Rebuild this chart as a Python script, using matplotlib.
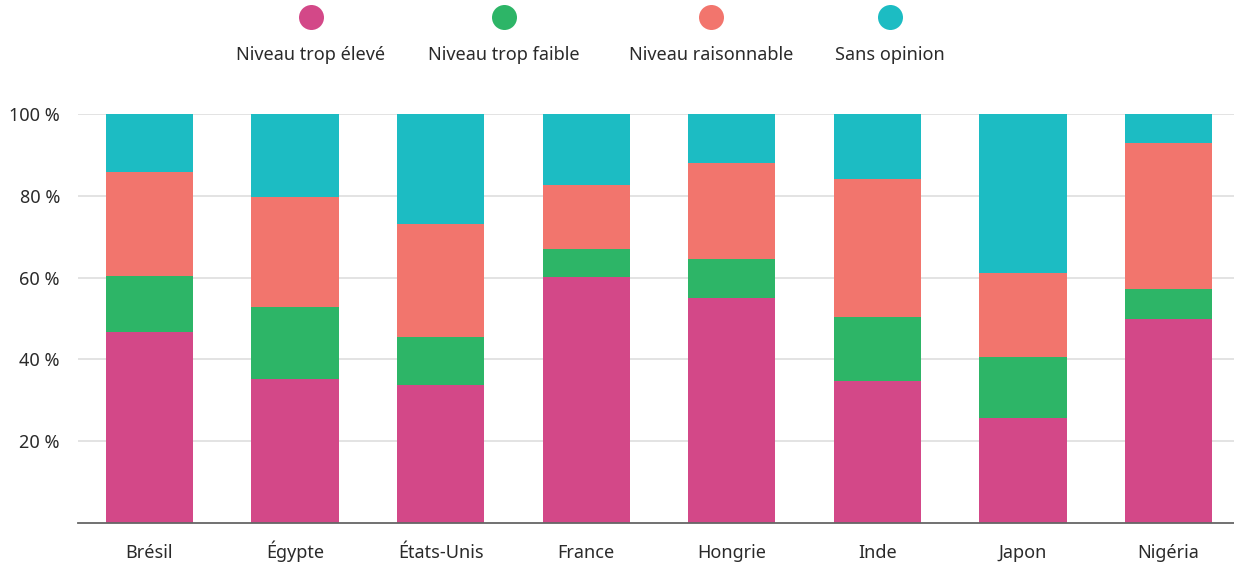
import matplotlib
matplotlib.use("Agg")
import matplotlib.pyplot as plt
from matplotlib.lines import Line2D
import numpy as np

plt.rcParams['font.family'] = ['Noto Sans', 'DejaVu Sans']

categories = ["Brésil", "Égypte", "États-Unis", "France", "Hongrie", "Inde", "Japon", "Nigéria"]
series_names = ["Niveau trop élevé", "Niveau trop faible", "Niveau raisonnable", "Sans opinion"]
trop_eleve = [46.8, 35.2, 33.7, 60.1, 55.1, 34.7, 25.7, 49.9]
trop_faible = [13.7, 17.6, 11.8, 6.9, 9.4, 15.7, 14.9, 7.3]
raisonnable = [25.2, 26.9, 27.7, 15.6, 23.5, 33.7, 20.5, 35.7]
sans_opinion = [14.3, 20.3, 26.8, 17.4, 12.0, 15.9, 38.9, 7.1]
y_ticks = [20, 40, 60, 80, 100]
y_tick_labels = ["20 %", "40 %", "60 %", "80 %", "100 %"]

colors = ["#d34888", "#2db567", "#f2756d", "#1cbcc3"]
text_color = "#2a2a2a"

W, H = 1234, 563
fig = plt.figure(figsize=(W / 100, H / 100), dpi=100)
ax = fig.add_axes([78 / W, 1 - 523 / H, (1234 - 78) / W, (523 - 114) / H])

x = np.arange(len(categories))
bottom = np.zeros(len(categories))
for vals, col, name in zip([trop_eleve, trop_faible, raisonnable, sans_opinion], colors, series_names):
    ax.bar(x, vals, bottom=bottom, width=0.6, color=col, label=name, zorder=3, linewidth=0)
    bottom += np.array(vals)

ax.set_xlim(-0.491, 7.45)
ax.set_ylim(0, 100)
ax.set_yticks(y_ticks)
ax.set_yticklabels(y_tick_labels)
ax.set_xticks(x)
ax.set_xticklabels(categories, va='baseline')
ax.tick_params(axis='both', length=0, labelsize=13, colors=text_color)
ax.tick_params(axis='x', pad=25)
ax.tick_params(axis='y', pad=13)
ax.grid(axis='y', color="#e0e0e0", linewidth=1.3, zorder=0)
for s in ["top", "right", "left"]:
    ax.spines[s].set_visible(False)
ax.spines["bottom"].set_color("#666666")
ax.spines["bottom"].set_linewidth(1.3)
ax.spines["bottom"].set_zorder(4)

# Legend: circle above centered label
legend_x = [311, 504, 711, 890]
for lx, col, name in zip(legend_x, colors, series_names):
    fig.add_artist(Line2D([lx / W], [1 - 17 / H], marker='o', markersize=18, color=col,
                          markeredgewidth=0, linestyle='none', transform=fig.transFigure))
    fig.text(lx / W, 1 - 54.5 / H, name, ha='center', va='center', fontsize=13, color=text_color)

fig.savefig("out.png", dpi=100)
